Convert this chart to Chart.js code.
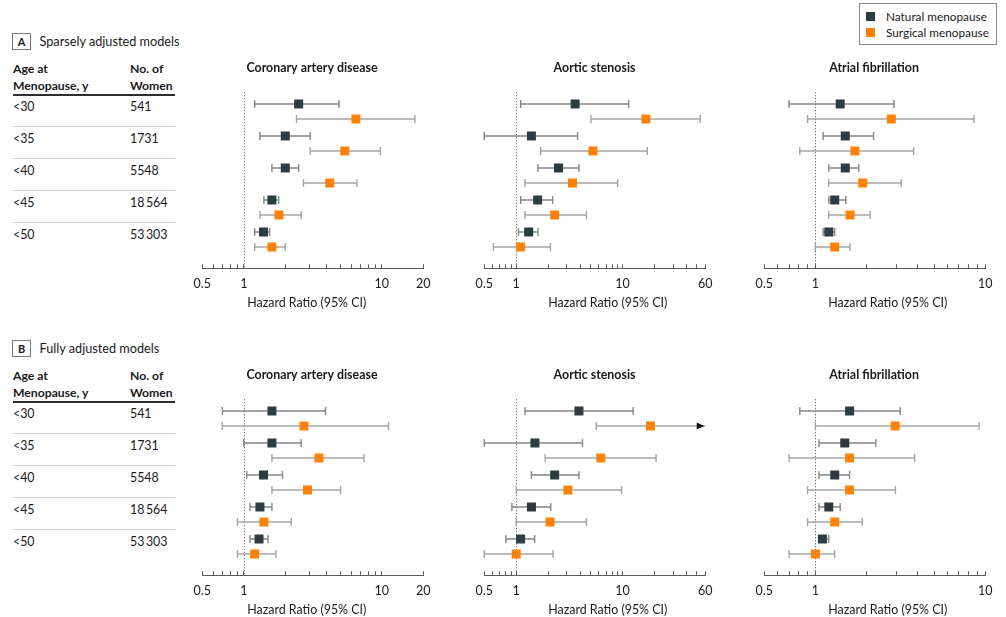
<!DOCTYPE html>
<html>
<head>
<meta charset="utf-8">
<title>Age at menopause and cardiovascular outcomes</title>
<script src="https://cdn.jsdelivr.net/npm/chart.js@4.4.1/dist/chart.umd.min.js"></script>
<style>
  html, body { margin: 0; padding: 0; overflow: hidden; background: #fff; }
  #fig { position: relative; width: 1006px; height: 617px; overflow: hidden;
         font-family: Lato, "Noto Sans", sans-serif; color: #1a1a1a; }
  .t { position: absolute; white-space: nowrap; }
  .rule { position: absolute; }
  canvas { position: absolute; }
</style>
</head>
<body>
<div id="fig"></div>
<script>
// ---- categories and labels ----
const ageGroups = ['<30', '<35', '<40', '<45', '<50'];
const womenCounts = ['541', '1731', '5548', '18\u2009564', '53\u2009303'];
const seriesNames = ['Natural menopause', 'Surgical menopause'];
const panelLetters = ['A', 'B'];
const panelTitles = ['Sparsely adjusted models', 'Fully adjusted models'];
const outcomeNames = ['Coronary artery disease', 'Aortic stenosis', 'Atrial fibrillation'];
const axisTitle = 'Hazard Ratio (95% CI)';

// ---- axis ticks (all tick marks) and the ones that carry a label ----
const cadTicks = [0.5, 0.6, 0.7, 0.8, 0.9, 1, 2, 3, 4, 5, 6, 7, 8, 9, 10, 20];
const asTicks = [0.5, 0.6, 0.7, 0.8, 0.9, 1, 2, 3, 4, 5, 6, 7, 8, 9, 10, 20, 30, 40, 50, 60];
const afTicks = [0.5, 0.6, 0.7, 0.8, 0.9, 1, 2, 3, 4, 5, 6, 7, 8, 9, 10];
const cadTickLabels = [0.5, 1, 10, 20];
const asTickLabels = [0.5, 1, 10, 60];
const afTickLabels = [0.5, 1, 10];

// ---- estimates: [hazard ratio, lower 95% CI, upper 95% CI] per age group ----
const sparseCadNatural  = [[2.50, 1.20, 4.90], [2.00, 1.31, 3.03], [2.00, 1.60, 2.50], [1.60, 1.40, 1.79], [1.39, 1.20, 1.54]];
const sparseCadSurgical = [[6.50, 2.41, 17.4], [5.40, 3.03, 9.78], [4.20, 2.71, 6.61], [1.80, 1.31, 2.61], [1.60, 1.20, 2.00]];
const sparseAsNatural   = [[3.58, 1.10, 11.4], [1.39, 0.50, 3.78], [2.50, 1.60, 3.89], [1.59, 1.10, 2.20], [1.31, 1.05, 1.60]];
const sparseAsSurgical  = [[16.6, 5.05, 53.8], [5.27, 1.70, 17.1], [3.38, 1.21, 9.00], [2.30, 1.21, 4.58], [1.10, 0.61, 2.10]];
const sparseAfNatural   = [[1.40, 0.70, 2.90], [1.50, 1.11, 2.20], [1.50, 1.20, 1.80], [1.30, 1.20, 1.51], [1.20, 1.11, 1.30]];
const sparseAfSurgical  = [[2.80, 0.90, 8.57], [1.71, 0.81, 3.79], [1.90, 1.20, 3.20], [1.60, 1.20, 2.10], [1.30, 1.00, 1.60]];

const fullCadNatural  = [[1.60, 0.70, 3.91], [1.60, 1.00, 2.61], [1.39, 1.05, 1.91], [1.31, 1.11, 1.60], [1.29, 1.11, 1.50]];
const fullCadSurgical = [[2.73, 0.70, 11.2], [3.51, 1.60, 7.45], [2.90, 1.60, 5.03], [1.40, 0.90, 2.21], [1.20, 0.90, 1.71]];
const fullAsNatural   = [[3.89, 1.21, 12.6], [1.50, 0.50, 4.20], [2.30, 1.39, 3.89], [1.39, 0.91, 2.11], [1.10, 0.80, 1.49]];
const fullAsSurgical  = [[18.3, 5.66, 70.0], [6.24, 1.87, 20.7], [3.06, 1.00, 9.79], [2.08, 1.00, 4.58], [1.00, 0.50, 2.22]];
const fullAfNatural   = [[1.59, 0.81, 3.16], [1.49, 1.05, 2.27], [1.30, 1.05, 1.59], [1.20, 1.05, 1.40], [1.10, 1.05, 1.20]];
const fullAfSurgical  = [[2.95, 1.00, 9.20], [1.59, 0.70, 3.84], [1.59, 0.90, 2.96], [1.30, 0.90, 1.89], [1.00, 0.70, 1.30]];

// ---- styling ----
const FONT = 'Lato, "Noto Sans", sans-serif';
const TEXT = '#1a1a1a';
const markColors = ['#2b3d43', '#ff8205'];
const whiskerColors = ['#868686', '#a4a4a4'];
const PANEL_SHIFT = 307;

Chart.defaults.font.family = FONT;
Chart.defaults.color = TEXT;

const fig = document.getElementById('fig');

function addText(str, left, centerY, size, weight, extra) {
  const el = document.createElement('div');
  el.className = 't';
  el.textContent = str;
  const lh = Math.round(size * 1.4);
  el.style.left = left + 'px';
  el.style.top = (centerY - lh / 2) + 'px';
  el.style.height = lh + 'px';
  el.style.lineHeight = lh + 'px';
  el.style.fontSize = size + 'px';
  el.style.fontWeight = weight || 400;
  if (extra) Object.assign(el.style, extra);
  fig.appendChild(el);
  return el;
}

function addRule(left, top, width, height, color) {
  const el = document.createElement('div');
  el.className = 'rule';
  Object.assign(el.style, { left: left + 'px', top: top + 'px', width: width + 'px',
                            height: height + 'px', background: color });
  fig.appendChild(el);
}

// ---- figure legend ----
(function drawLegend() {
  const box = document.createElement('div');
  Object.assign(box.style, { position: 'absolute', left: '859px', top: '3px', width: '138px',
                             height: '42px', border: '1px solid #8c8c8c', boxSizing: 'border-box' });
  fig.appendChild(box);
  seriesNames.forEach((name, k) => {
    const cy = 16 + k * 16.7;
    const sq = document.createElement('div');
    Object.assign(sq.style, { position: 'absolute', left: '866px', top: (cy - 4.5) + 'px',
                              width: '9px', height: '9px', background: markColors[k] });
    fig.appendChild(sq);
    addText(name, 886, cy, 11.8, 400);
  });
})();

// ---- left-hand table for each panel ----
function drawTable(p) {
  const dy = p * PANEL_SHIFT;
  addText(panelLetters[p], 12, 41 + dy, 11, 700, {
    width: '19px', textAlign: 'center', border: '1px solid #7a7a7a', boxSizing: 'border-box',
    height: '17px', lineHeight: '15px', top: (32.5 + dy) + 'px' });
  addText(panelTitles[p], 39.5, 41 + dy, 12.7, 400);
  addText('Age at', 13, 68.5 + dy, 12.2, 700);
  addText('Menopause, y', 13, 85 + dy, 12.2, 700);
  addText('No. of', 130, 68.5 + dy, 12.2, 700);
  addText('Women', 130, 85 + dy, 12.2, 700);
  addRule(13, 94 + dy, 162, 2, '#2e2e2e');
  ageGroups.forEach((g, i) => {
    addText(g, 13, 106 + i * 32 + dy, 12.4, 400);
    addText(womenCounts[i], 130, 106 + i * 32 + dy, 12.4, 400);
    if (i < ageGroups.length - 1) addRule(13, 126 + i * 32 + dy, 162, 1, '#cfcfcf');
  });
}
drawTable(0);
drawTable(1);

// ---- forest-plot marks: reference line, caps, arrows, point estimates, axis title ----
const forestMarks = {
  id: 'forestMarks',
  beforeDatasetsDraw(chart) {
    const { ctx, chartArea: a, scales: { x } } = chart;
    const px = Math.round(x.getPixelForValue(1)) + 0.5;
    ctx.save();
    ctx.strokeStyle = '#4a4a4a';
    ctx.lineWidth = 1;
    ctx.setLineDash([1, 2]);
    ctx.beginPath();
    ctx.moveTo(px, a.top);
    ctx.lineTo(px, a.bottom);
    ctx.stroke();
    ctx.restore();
  },
  afterDatasetsDraw(chart) {
    const { ctx, chartArea: a, scales: { x } } = chart;
    ctx.save();
    chart.data.datasets.forEach((ds, d) => {
      const meta = chart.getDatasetMeta(d);
      meta.data.forEach((bar, i) => {
        const [lo, hi] = ds.data[i].x;
        const y = bar.y;
        ctx.strokeStyle = ds.backgroundColor;
        ctx.lineWidth = 1.4;
        [lo, hi].forEach(v => {
          if (v > x.max || v < x.min) return;
          const cx = x.getPixelForValue(v);
          ctx.beginPath();
          ctx.moveTo(cx, y - 4);
          ctx.lineTo(cx, y + 4);
          ctx.stroke();
        });
        if (hi > x.max) {
          const tip = a.right - 1;
          ctx.fillStyle = '#111';
          ctx.beginPath();
          ctx.moveTo(tip, y);
          ctx.lineTo(tip - 7.5, y - 3.5);
          ctx.lineTo(tip - 7.5, y + 3.5);
          ctx.closePath();
          ctx.fill();
        }
        const s = 9;
        const mx = x.getPixelForValue(ds.estimates[i]);
        ctx.fillStyle = ds.markColor;
        ctx.fillRect(mx - s / 2, y - s / 2, s, s);
      });
    });
    ctx.restore();
  },
  afterDraw(chart, args, opts) {
    const { ctx, chartArea: a } = chart;
    ctx.save();
    ctx.font = '12.4px ' + FONT;
    ctx.fillStyle = TEXT;
    ctx.textAlign = 'center';
    ctx.textBaseline = 'middle';
    ctx.fillText(opts.text, (a.left + a.right) / 2 + opts.shift, chart.height - 9.5);
    ctx.restore();
  }
};

function makeForest(box, outcome, ticks, tickLabels, natural, surgical) {
  const canvas = document.createElement('canvas');
  canvas.width = box.width;
  canvas.height = box.height;
  Object.assign(canvas.style, { left: box.left + 'px', top: box.top + 'px',
                                width: box.width + 'px', height: box.height + 'px' });
  fig.appendChild(canvas);

  const series = [natural, surgical].map((rows, k) => ({
    label: seriesNames[k],
    data: rows.map((r, i) => ({ y: i, x: [r[1], r[2]] })),
    estimates: rows.map(r => r[0]),
    backgroundColor: whiskerColors[k],
    markColor: markColors[k],
    categoryPercentage: 0.9375,
    barPercentage: 0.1,
    borderWidth: 0
  }));

  return new Chart(canvas, {
    type: 'bar',
    data: { datasets: series },
    options: {
      indexAxis: 'y',
      responsive: false,
      animation: false,
      events: [],
      layout: { padding: { left: box.padL, right: box.padR, top: 0, bottom: 0 } },
      plugins: {
        legend: { display: false },
        tooltip: { enabled: false },
        title: {
          display: true,
          text: outcome,
          color: TEXT,
          font: { family: FONT, size: 12.4, weight: 'bold', lineHeight: 1.2 },
          padding: { top: 10.6, bottom: 16.8 }
        },
        forestMarks: { text: axisTitle, shift: box.titleShift }
      },
      scales: {
        x: {
          type: 'logarithmic',
          position: 'bottom',
          min: ticks[0],
          max: ticks[ticks.length - 1],
          afterBuildTicks: s => { s.ticks = ticks.map(v => ({ value: v })); },
          afterFit: s => { s.height = 43.7; },
          ticks: {
            autoSkip: false,
            maxRotation: 0,
            padding: 12.5,
            color: TEXT,
            font: { family: FONT, size: 12.5, lineHeight: 1.2 },
            callback: v => (tickLabels.includes(v) ? String(v) : '')
          },
          grid: { drawOnChartArea: false, drawTicks: true, tickLength: -4, color: '#5a5a5a', lineWidth: 1 },
          border: { display: true, color: '#5a5a5a', width: 1 },
          title: { display: false }
        },
        y: {
          type: 'linear',
          bounds: 'data',
          offset: false,
          reverse: true,
          min: -0.6,
          max: 4.9,
          display: false,
          afterBuildTicks: s => { s.ticks = ageGroups.map((_, i) => ({ value: i })); }
        }
      }
    },
    plugins: [forestMarks]
  });
}

// chart boxes for the three outcome columns
const columns = [
  { left: 181, width: 262, padL: 18.4, padR: 18.4, titleShift: -6 },
  { left: 463, width: 262, padL: 18.5, padR: 17.4, titleShift: 13 },
  { left: 743, width: 262, padL: 17.9, padR: 17.7, titleShift: 13 }
];
const tickSets = [cadTicks, asTicks, afTicks];
const tickLabelSets = [cadTickLabels, asTickLabels, afTickLabels];
const panelData = [
  [[sparseCadNatural, sparseCadSurgical], [sparseAsNatural, sparseAsSurgical], [sparseAfNatural, sparseAfSurgical]],
  [[fullCadNatural, fullCadSurgical], [fullAsNatural, fullAsSurgical], [fullAfNatural, fullAfSurgical]]
];

panelData.forEach((panel, p) => {
  panel.forEach(([nat, surg], c) => {
    const box = Object.assign({}, columns[c], { top: 50 + p * PANEL_SHIFT, height: 262 });
    makeForest(box, outcomeNames[c], tickSets[c], tickLabelSets[c], nat, surg);
  });
});
</script>
</body>
</html>
